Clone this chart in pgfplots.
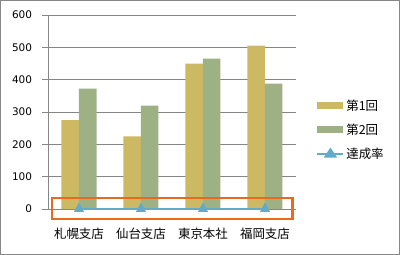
\documentclass[border=0pt]{standalone}
\usepackage{pgfplots}
\pgfplotsset{compat=1.18}
\usepackage{fontspec}
\setmainfont{DejaVu Sans}
\newfontfamily\jp{Noto Sans CJK JP}
\definecolor{cgold}{RGB}{205,185,100}
\definecolor{cgreen}{RGB}{157,177,133}
\definecolor{cblue}{RGB}{98,170,202}
\definecolor{corange}{RGB}{232,106,30}
\definecolor{cgrid}{RGB}{134,134,134}
\begin{document}
\begin{tikzpicture}[x=1bp,y=1bp]
\draw[cgrid, line width=1bp] (0.5,0.5) rectangle (399.5,254.5);
\begin{axis}[
  at={(48bp,46bp)}, anchor=south west,
  scale only axis, width=248bp, height=194bp,
  xmin=-0.5, xmax=3.5, ymin=0, ymax=600,
  ytick={0,100,...,600},
  xtick={0,1,2,3},
  minor xtick={-0.5,0.5,1.5,2.5,3.5},
  xticklabels={札幌支店,仙台支店,東京本社,福岡支店},
  xticklabel style={font=\jp\fontsize{12.5}{14}\selectfont, anchor=base, yshift=-23.5bp},
  yticklabel style={font=\fontsize{10.5}{12}\selectfont, xshift=-6.5bp},
  /pgf/number format/assume math mode=true,
  axis x line*=bottom, axis y line*=left,
  x axis line style={cgrid, line width=0.8bp, -},
  y axis line style={cgrid, line width=0.8bp, -},
  tick align=outside,
  xtick style={draw=none},
  minor x tick style={cgrid, line width=0.8bp},
  ytick style={cgrid, line width=0.8bp},
  major tick length=6bp, minor tick length=5bp,
  ymajorgrids, grid style={cgrid, line width=0.8bp},
  clip=false,
  legend style={at={(1.07,0.585)}, anchor=north west, draw=none, fill=none,
    font=\jp\fontsize{12.5}{14}\selectfont, row sep=8bp,
    cells={anchor=west}},
]
\addplot[ybar, bar width=17.5bp, bar shift=-8.75bp, fill=cgold, draw=none,
  legend image code/.code={\fill[cgold] (0bp,-3.5bp) rectangle (26bp,3.5bp);}]
  coordinates {(0,275) (1,225) (2,450) (3,505)};
\addlegendentry{第1回}
\addplot[ybar, bar width=17.5bp, bar shift=8.75bp, fill=cgreen, draw=none,
  legend image code/.code={\fill[cgreen] (0bp,-3.5bp) rectangle (26bp,3.5bp);}]
  coordinates {(0,372) (1,320) (2,465) (3,388)};
\addlegendentry{第2回}
\addplot[cblue, line width=1.8bp, mark=triangle*, mark size=5.5bp,
  mark options={fill=cblue, draw=cblue, line width=0pt},
  legend image code/.code={\draw[cblue, line width=1.8bp] (0bp,0bp) -- (26bp,0bp);
    \fill[cblue] (13bp,4.5bp) -- (8bp,-3bp) -- (18bp,-3bp) -- cycle;}]
  coordinates {(0,1) (1,1) (2,1) (3,1)};
\addlegendentry{達成率}
\draw[corange, line width=2.8bp] (axis cs:-0.435,34) rectangle (axis cs:3.45,-31);
\end{axis}
\end{tikzpicture}
\end{document}
